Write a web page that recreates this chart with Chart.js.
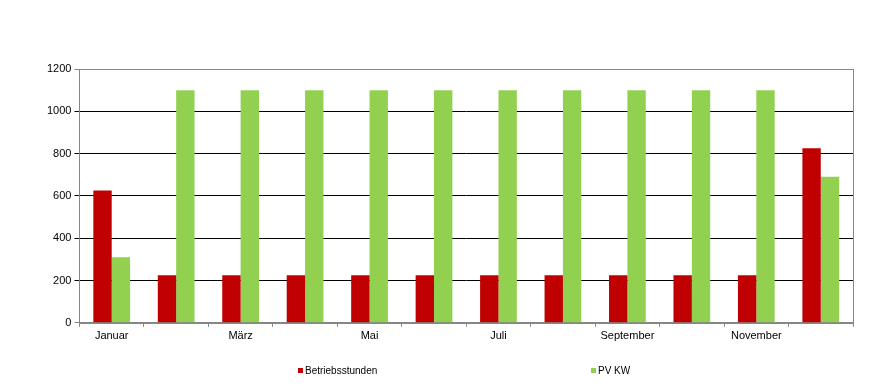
<!DOCTYPE html>
<html>
<head>
<meta charset="utf-8">
<script src="https://cdn.jsdelivr.net/npm/chart.js@4"></script>
<style>
  body { margin: 0; background: #fff; }
  #wrap { position: relative; width: 874px; height: 389px; }
  #legend { position: absolute; left: 0; top: 365px; width: 874px; height: 14px;
    font: 10px "Liberation Sans", Arial, sans-serif; color: #000; }
  #legend span { position: absolute; white-space: nowrap; }
  #legend i { display: inline-block; width: 5px; height: 5px; margin-right: 2px; vertical-align: 1px; }
</style>
</head>
<body>
<div id="wrap">
  <canvas id="chart" width="874" height="389"></canvas>
  <div id="legend"></div>
</div>
<script>
const months = ['Januar', 'Februar', 'März', 'April', 'Mai', 'Juni', 'Juli', 'August', 'September', 'Oktober', 'November', 'Dezember'];
const betriebsstunden = [625, 225, 225, 225, 225, 225, 225, 225, 225, 225, 225, 825];
const pvKw = [310, 1100, 1100, 1100, 1100, 1100, 1100, 1100, 1100, 1100, 1100, 690];
const legendX = [298, 591];

Chart.defaults.font.family = '"Liberation Sans", Arial, sans-serif';
Chart.defaults.color = '#000';

// gray frame round the plot area
const frame = {
  id: 'frame',
  afterDatasetsDraw(chart) {
    const a = chart.chartArea, ctx = chart.ctx;
    ctx.save();
    ctx.strokeStyle = '#868686';
    ctx.lineWidth = 1;
    ctx.strokeRect(Math.round(a.left) + 0.5, Math.round(a.top) + 0.5, Math.round(a.right - a.left), Math.round(a.bottom - a.top));
    ctx.restore();
  }
};

const chart = new Chart(document.getElementById('chart'), {
  type: 'bar',
  data: {
    labels: months,
    datasets: [
      { label: 'Betriebsstunden', data: betriebsstunden, backgroundColor: '#C00000' },
      { label: 'PV KW', data: pvKw, backgroundColor: '#92D050' }
    ]
  },
  options: {
    responsive: false,
    animation: false,
    layout: { padding: { top: 69, right: 21, left: 44, bottom: 43 } },
    plugins: { legend: { display: false }, tooltip: { enabled: false } },
    datasets: { bar: { categoryPercentage: 0.57, barPercentage: 1.0 } },
    scales: {
      x: {
        grid: { drawOnChartArea: false, drawTicks: true, tickLength: 4, color: '#868686', offset: true },
        border: { color: '#868686' },
        ticks: {
          autoSkip: false, maxRotation: 0, font: { size: 11 }, padding: 3,
          callback: (v, i) => i % 2 === 0 ? months[i] : ''
        }
      },
      y: {
        min: 0, max: 1200,
        grid: {
          color: ctx => (ctx.tick && (ctx.tick.value === 1200 || ctx.tick.value === 0)) ? '#868686' : '#000',
          tickLength: 5, lineWidth: 1
        },
        border: { color: '#868686' },
        ticks: { stepSize: 200, font: { size: 11 }, padding: 3, callback: v => String(v) }
      }
    }
  },
  plugins: [frame]
});

// legend below the chart, built from the datasets
const legend = document.getElementById('legend');
chart.data.datasets.forEach((ds, i) => {
  const s = document.createElement('span');
  s.style.left = legendX[i] + 'px';
  s.innerHTML = '<i style="background:' + ds.backgroundColor + '"></i>' + ds.label;
  legend.appendChild(s);
});
</script>
</body>
</html>
